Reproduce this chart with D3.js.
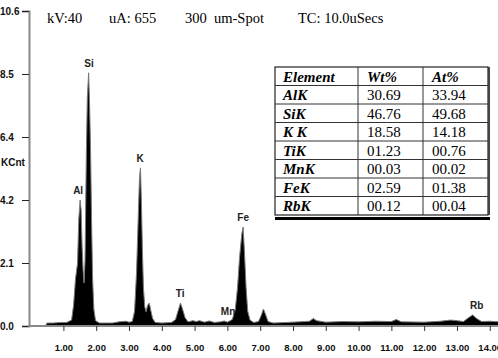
<!DOCTYPE html>
<html>
<head>
<meta charset="utf-8">
<script src="https://cdn.jsdelivr.net/npm/d3@7"></script>
<style>
  body { margin: 0; background: #fff; }
  svg { display: block; }
</style>
</head>
<body>
<div id="chart"></div>
<script>
// spectrum: [keV, KCnt]
const spectrum = [
  [0.00, 0], [0.45, 0], [0.50, 0.10], [0.70, 0.10], [0.90, 0.12], [1.10, 0.12],
  [1.25, 0.20], [1.31, 0.70], [1.37, 1.60], [1.43, 2.10], [1.47, 3.60], [1.51, 4.24],
  [1.54, 3.90], [1.57, 2.70], [1.60, 1.90], [1.63, 1.45], [1.66, 2.20], [1.70, 5.80],
  [1.73, 7.70], [1.77, 8.52], [1.80, 7.40], [1.83, 5.80], [1.86, 3.50], [1.89, 1.60],
  [1.93, 0.55], [1.98, 0.18], [2.10, 0.10], [2.50, 0.10], [2.70, 0.14], [2.90, 0.16],
  [3.00, 0.13], [3.10, 0.15], [3.17, 0.50], [3.23, 1.80], [3.28, 3.60], [3.32, 5.00],
  [3.35, 5.32], [3.38, 4.10], [3.41, 2.50], [3.44, 1.30], [3.48, 0.65], [3.52, 0.48],
  [3.57, 0.70], [3.62, 0.77], [3.66, 0.55], [3.72, 0.25], [3.80, 0.12], [4.00, 0.10],
  [4.30, 0.12], [4.42, 0.22], [4.50, 0.52], [4.57, 0.77], [4.63, 0.58], [4.71, 0.28],
  [4.80, 0.14], [4.95, 0.18], [5.05, 0.15], [5.15, 0.18], [5.30, 0.13], [5.45, 0.17],
  [5.60, 0.12], [5.80, 0.14], [5.90, 0.17], [6.00, 0.13], [6.15, 0.22], [6.24, 0.55],
  [6.31, 1.30], [6.37, 2.30], [6.44, 3.10], [6.48, 3.33], [6.52, 2.50], [6.57, 1.30],
  [6.62, 0.50], [6.69, 0.20], [6.80, 0.12], [6.95, 0.15], [7.03, 0.35], [7.10, 0.57],
  [7.16, 0.40], [7.24, 0.15], [7.40, 0.10], [7.80, 0.12], [8.20, 0.14], [8.50, 0.16],
  [8.62, 0.25], [8.72, 0.18], [9.00, 0.13], [9.50, 0.15], [10.00, 0.14], [10.50, 0.16],
  [11.00, 0.15], [11.15, 0.22], [11.30, 0.14], [12.00, 0.13], [12.50, 0.16], [12.80, 0.20],
  [13.00, 0.18], [13.20, 0.15], [13.35, 0.28], [13.48, 0.37], [13.60, 0.25], [13.75, 0.15],
  [14.00, 0.16], [14.30, 0.14]
]

const peakNames = ['Al', 'Si', 'K', 'Ti', 'Mn', 'Fe', 'Rb']
const peakKev = [1.45, 1.78, 3.34, 4.56, 6.02, 6.48, 13.6]
const peakTop = [4.24, 8.52, 5.32, 0.77, 0.17, 3.33, 0.37]

const yTicks = [0, 2.12, 4.24, 6.36, 8.48, 10.6]
const xTicks = [1, 2, 3, 4, 5, 6, 7, 8, 9, 10, 11, 12, 13, 14]

const header = ['Element', 'Wt%', 'At%']
const elements = ['AlK', 'SiK', 'K K', 'TiK', 'MnK', 'FeK', 'RbK']
const wt = ['30.69', '46.76', '18.58', '01.23', '00.03', '02.59', '00.12']
const at = ['33.94', '49.68', '14.18', '00.76', '00.02', '01.38', '00.04']

const title = ['kV:40', 'uA: 655', '300  um-Spot', 'TC: 10.0uSecs']
const titleX = [47, 109, 185, 298]

const W = 498, H = 358
const sans = 'Liberation Sans, Arial, sans-serif'
const serif = 'Liberation Serif, Times New Roman, serif'

const svg = d3.select('#chart').append('svg').attr('width', W).attr('height', H)

const x = d3.scaleLinear().domain([0, 14.3]).range([30.6, 499.6])
const y = d3.scaleLinear().domain([0, 10.6]).range([326, 11])

// spectrum
const area = d3.area().x(d => x(d[0])).y0(y(0)).y1(d => y(d[1]))
const line = d3.line().x(d => x(d[0])).y(d => y(d[1]))
svg.append('path').datum(spectrum).attr('d', area).attr('fill', '#000')
svg.append('path').datum(spectrum).attr('d', line)
  .attr('fill', 'none').attr('stroke', '#7a7a7a').attr('stroke-width', 1)

// y axis
const gy = svg.append('g').attr('transform', 'translate(29,0)')
  .call(d3.axisLeft(y).tickValues(yTicks).tickSize(7).tickFormat(d3.format('.1f')))
gy.select('.domain').attr('stroke', '#888').attr('stroke-width', 2)
gy.selectAll('.tick line').attr('stroke', '#222')
gy.selectAll('.tick text')
  .attr('x', -29).attr('text-anchor', 'start')
  .attr('font-family', sans).attr('font-size', 10).attr('font-weight', 'bold').attr('fill', '#111')

svg.append('text').text('KCnt').attr('x', 1).attr('y', 166)
  .attr('font-family', sans).attr('font-size', 10).attr('font-weight', 'bold').attr('fill', '#111')

// x axis
const gx = svg.append('g').attr('transform', 'translate(0,326)')
  .call(d3.axisBottom(x).tickValues(xTicks).tickSize(5).tickSizeOuter(0).tickFormat(d3.format('.2f')))
gx.select('.domain').attr('stroke', '#888').attr('stroke-width', 2).attr('d', 'M28,0H498')
gx.selectAll('.tick line').attr('stroke', '#333')
gx.selectAll('.tick text').attr('y', 18)
  .attr('font-family', sans).attr('font-size', 9.5).attr('font-weight', 'bold').attr('fill', '#111')

// peak labels
svg.append('g').selectAll('text').data(peakNames).join('text')
  .text(d => d)
  .attr('x', (d, i) => x(peakKev[i]))
  .attr('y', (d, i) => y(peakTop[i]) - 6)
  .attr('text-anchor', 'middle')
  .attr('font-family', sans).attr('font-size', 10).attr('font-weight', 'bold').attr('fill', '#222')

// title line
svg.append('g').selectAll('text').data(title).join('text')
  .text(d => d)
  .attr('x', (d, i) => titleX[i]).attr('y', 23)
  .attr('xml:space', 'preserve')
  .attr('font-family', serif).attr('font-size', 14.5).attr('fill', '#000')

// results table
const tb = { left: 275, top: 67, rowH: 18.5, cols: [275, 358, 423, 488] }
const rows = [header].concat(elements.map((e, i) => [e, wt[i], at[i]]))
const tg = svg.append('g')
tg.append('rect').attr('x', tb.left).attr('y', tb.top)
  .attr('width', tb.cols[3] - tb.left).attr('height', rows.length * tb.rowH)
  .attr('fill', '#fff').attr('stroke', '#222').attr('stroke-width', 1.2)
rows.forEach((r, i) => {
  if (i > 0) {
    tg.append('line').attr('x1', tb.left).attr('x2', tb.cols[3])
      .attr('y1', tb.top + i * tb.rowH).attr('y2', tb.top + i * tb.rowH)
      .attr('stroke', '#333').attr('stroke-width', 1)
  }
  r.forEach((c, j) => {
    const bold = i === 0 || j === 0
    tg.append('text').text(c)
      .attr('x', tb.cols[j] + (j === 0 ? 8 : 9))
      .attr('y', tb.top + i * tb.rowH + 14.5)
      .attr('xml:space', 'preserve')
      .attr('font-family', serif).attr('font-size', 15)
      .attr('font-weight', bold ? 'bold' : 'normal')
      .attr('font-style', bold ? 'italic' : 'normal')
      .attr('fill', '#000')
  })
})
;[1, 2].forEach(j => {
  tg.append('line').attr('x1', tb.cols[j]).attr('x2', tb.cols[j])
    .attr('y1', tb.top).attr('y2', tb.top + rows.length * tb.rowH)
    .attr('stroke', '#333').attr('stroke-width', 1)
})
// shadow edge under/right of the table
tg.append('rect').attr('x', tb.left).attr('y', tb.top + rows.length * tb.rowH + 2)
  .attr('width', tb.cols[3] - tb.left + 2).attr('height', 3).attr('fill', '#000')
tg.append('rect').attr('x', tb.cols[3]).attr('y', tb.top)
  .attr('width', 2).attr('height', rows.length * tb.rowH).attr('fill', '#444')
</script>
</body>
</html>
